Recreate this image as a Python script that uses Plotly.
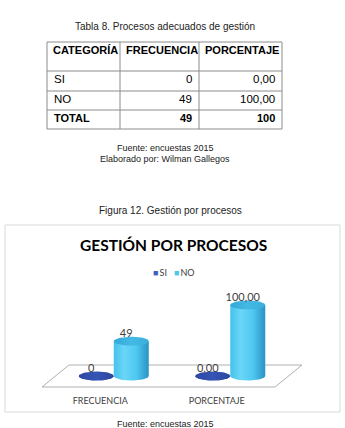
import numpy as np
import plotly.graph_objects as go

# ---------------- data ----------------
table_title = "Tabla 8. Procesos adecuados de gestión"
table_header = ["CATEGORÍA", "FRECUENCIA", "PORCENTAJE"]
table_categoria = ["SI", "NO", "TOTAL"]
table_frecuencia = ["0", "49", "49"]
table_porcentaje = ["0,00", "100,00", "100"]

chart_title = "GESTIÓN POR PROCESOS"
categories = ["FRECUENCIA", "PORCENTAJE"]
series_names = ["SI", "NO"]
si_values = [0, 0]
no_values = [49, 100]
si_labels = ["0", "0,00"]
no_labels = ["49", "100,00"]

fig_caption = "Figura 12. Gestión por procesos"
source_text = "Fuente: encuestas 2015"
author_text = "Elaborado por: Wilman Gallegos"

# ---------------- geometry / style ----------------
W, H = 345, 428
PXU = 116.5          # px per category unit
X_ORIGIN_PX = 42     # pixel of x = -0.5
YU = 0.71            # px per value unit
BASE_PX = 376        # pixel of value 0
x_lo = -0.5 - X_ORIGIN_PX / PXU
x_hi = x_lo + W / PXU
y_hi = BASE_PX / YU
y_lo = (BASE_PX - H) / YU

DEPTH_DX = 13.5 / PXU     # half depth shift (x)
DEPTH_DY = 11 / YU        # half depth shift (y)
R = 17.5 / PXU            # cylinder radius (x units)
RY = 4.5 / YU             # ellipse radius (y units)
LBL_DX = -5 / PXU
LBL_DY = 7 / YU

FONT = "Lato"
TFONT = "Liberation Sans"
TXT = "#404040"
SI_COLOR = "#3f5fbf"
NO_COLOR = "#4fc6ee"


def px(xp):
    return xp / W


def py(yp):
    return 1 - yp / H


fig = go.Figure()
shapes = []
annotations = []

# ---------------- table (lines + text) ----------------
COL_EDGES = [47, 120, 199, 282]
ROW_EDGES = [42, 71, 91, 110, 129]
GRID = "#8c8c8c"
for yp in ROW_EDGES:
    shapes.append(dict(type="line", xref="paper", yref="paper", x0=px(COL_EDGES[0]),
                       x1=px(COL_EDGES[-1]), y0=py(yp), y1=py(yp),
                       line=dict(color=GRID, width=1)))
for xp in COL_EDGES:
    shapes.append(dict(type="line", xref="paper", yref="paper", x0=px(xp), x1=px(xp),
                       y0=py(ROW_EDGES[0]), y1=py(ROW_EDGES[-1]),
                       line=dict(color=GRID, width=1)))

for j, h in enumerate(table_header):
    annotations.append(dict(text=f"<b>{h}</b>", x=px(COL_EDGES[j] + 4), y=py(ROW_EDGES[0] + 7.5),
                            xref="paper", yref="paper", xanchor="left", yanchor="middle",
                            showarrow=False,
                            font=dict(family=TFONT, size=11, color="black")))
columns = [table_categoria, table_frecuencia, table_porcentaje]
n_rows = len(table_categoria)
for j, col in enumerate(columns):
    for i, val in enumerate(col):
        bold = i == n_rows - 1
        txt = f"<b>{val}</b>" if bold else val
        yc = (ROW_EDGES[i + 1] + ROW_EDGES[i + 2]) / 2 - 2
        if j == 0:
            xa, xanchor = COL_EDGES[j] + 5, "left"
        else:
            xa, xanchor = COL_EDGES[j + 1] - 5, "right"
        annotations.append(dict(text=txt, x=px(xa), y=py(yc), xref="paper", yref="paper",
                                xanchor=xanchor, yanchor="middle", showarrow=False,
                                font=dict(family=TFONT, size=11.5 if not bold else 11,
                                          color="black")))

# ---------------- chart floor ----------------
fx = [-0.5, 1.5, 1.5 + 2 * DEPTH_DX, -0.5 + 2 * DEPTH_DX, -0.5]
fy = [-DEPTH_DY, -DEPTH_DY, DEPTH_DY, DEPTH_DY, -DEPTH_DY]
fig.add_trace(go.Scatter(x=fx, y=fy, mode="lines", fill="toself",
                         fillcolor="white", line=dict(color="#b0b0b0", width=1),
                         hoverinfo="skip", showlegend=False))


def cylinder(cx, h, body_scale, top_scale):
    t = np.linspace(0, -np.pi, 40)
    bx = [cx - R, cx + R] + list(cx + R * np.cos(t))
    by = [h, h] + list(RY * np.sin(t))
    fig.add_trace(go.Scatter(x=bx, y=by, mode="lines", fill="toself",
                             line=dict(width=0), fillcolor="rgba(0,0,0,0)",
                             fillgradient=dict(type="horizontal", colorscale=body_scale),
                             hoverinfo="skip", showlegend=False))
    t2 = np.linspace(0, 2 * np.pi, 60)
    fig.add_trace(go.Scatter(x=list(cx + R * np.cos(t2)), y=list(h + RY * np.sin(t2)),
                             mode="lines", fill="toself", line=dict(width=0),
                             fillcolor="rgba(0,0,0,0)",
                             fillgradient=dict(type="horizontal", colorscale=top_scale),
                             hoverinfo="skip", showlegend=False))


si_body = [[0, "#2a459c"], [0.5, "#3252ae"], [1, "#263f90"]]
si_top = [[0, "#2c49a2"], [0.5, "#3555b4"], [1, "#2b469e"]]
no_body = [[0, "#45c2ec"], [0.3, "#6ad6f8"], [0.65, "#4ec8f0"], [1, "#2a92c4"]]
no_top = [[0, "#33a9d8"], [0.5, "#44b9e4"], [1, "#3aafdc"]]

si_cx = [i + DEPTH_DX - R for i in range(len(categories))]
no_cx = [i + DEPTH_DX + R for i in range(len(categories))]
for cx, v in zip(si_cx, si_values):
    cylinder(cx, v, si_body, si_top)
for cx, v in zip(no_cx, no_values):
    cylinder(cx, v, no_body, no_top)

# data labels
fig.add_trace(go.Scatter(x=[c + LBL_DX for c in si_cx], y=[v + LBL_DY for v in si_values],
                         mode="text", text=si_labels, textposition="middle center",
                         textfont=dict(family=FONT, size=11, color=TXT),
                         hoverinfo="skip", showlegend=False))
fig.add_trace(go.Scatter(x=[c + LBL_DX for c in no_cx], y=[v + LBL_DY for v in no_values],
                         mode="text", text=no_labels, textposition="middle center",
                         textfont=dict(family=FONT, size=11, color=TXT),
                         hoverinfo="skip", showlegend=False))

# legend (compact, as in the reference)
legend_txt = "   ".join(f"<span style='color:{c}'>■</span>\u2009{n}"
                        for n, c in zip(series_names, [SI_COLOR, NO_COLOR]))
annotations.append(dict(text=legend_txt, x=px(174), y=py(272), xref="paper", yref="paper",
                        xanchor="center", yanchor="middle", showarrow=False,
                        font=dict(family=FONT, size=9, color=TXT)))

# other texts
annotations += [
    dict(text=table_title, x=px(165), y=py(27), xref="paper", yref="paper", yanchor="middle",
         showarrow=False, font=dict(family=TFONT, size=10, color="#222")),
    dict(text=source_text, x=px(165), y=py(148), xref="paper", yref="paper", yanchor="middle",
         showarrow=False, font=dict(family=TFONT, size=9, color="#222")),
    dict(text=author_text, x=px(165), y=py(159), xref="paper", yref="paper", yanchor="middle",
         showarrow=False, font=dict(family=TFONT, size=9, color="#222")),
    dict(text=fig_caption, x=px(170), y=py(210), xref="paper", yref="paper", yanchor="middle",
         showarrow=False, font=dict(family=TFONT, size=10, color="#222")),
    dict(text=f"<b>{chart_title}</b>", x=px(173.5), y=py(245), xref="paper", yref="paper",
         yanchor="middle", showarrow=False,
         font=dict(family=FONT, size=15.5, color="black")),
    dict(text=source_text, x=px(165), y=py(424), xref="paper", yref="paper", yanchor="middle",
         showarrow=False, font=dict(family=TFONT, size=9, color="#222")),
]

# chart border
shapes.append(dict(type="rect", xref="paper", yref="paper",
                   x0=px(5), x1=px(340), y0=py(412), y1=py(225),
                   line=dict(color="#d9d9d9", width=1), layer="below"))

# ---------------- layout ----------------
fig.update_layout(
    width=W, height=H,
    margin=dict(l=0, r=0, t=0, b=0),
    paper_bgcolor="white", plot_bgcolor="rgba(0,0,0,0)",
    xaxis=dict(domain=[0, 1], range=[x_lo, x_hi], showgrid=False, zeroline=False,
               showline=False, tickvals=list(range(len(categories))), ticktext=categories,
               ticks="", anchor="free", position=py(394),
               tickfont=dict(family=FONT, size=9, color=TXT)),
    yaxis=dict(domain=[0, 1], range=[y_lo, y_hi], showgrid=False, zeroline=False,
               showline=False, showticklabels=False),
    showlegend=False,
    hovermode=False,
    shapes=shapes,
    annotations=annotations,
)

fig.write_html("out.html")
